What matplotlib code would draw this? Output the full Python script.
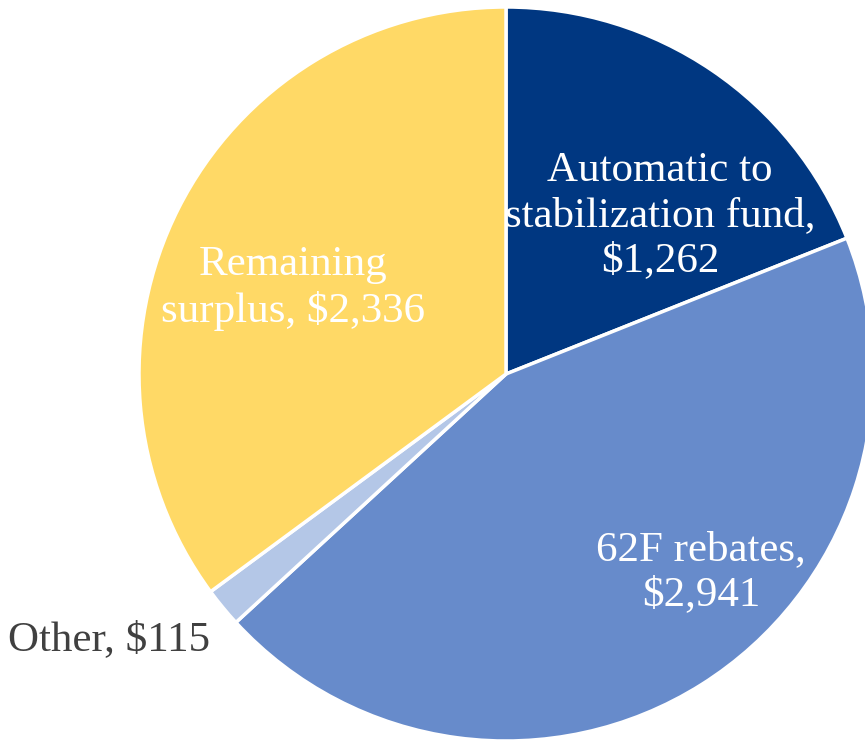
import matplotlib
matplotlib.use("Agg")
import matplotlib.pyplot as plt

categories = ["Automatic to\nstabilization fund,\n$1,262", "62F rebates,\n$2,941", "Other, $115", "Remaining\nsurplus, $2,336"]
values = [1262, 2941, 115, 2336]
colors = ["#003781", "#678BCB", "#B4C7E7", "#FFD966"]

W, H = 865, 742
cx, cy, R = 506, 374, 367

fig = plt.figure(figsize=(W / 100, H / 100), dpi=100)
ax = fig.add_axes([0, 0, 1, 1])
ax.axis("off")

wedges, _ = ax.pie(values, colors=colors, startangle=90, counterclock=False,
                   radius=1, center=(0, 0),
                   wedgeprops=dict(edgecolor="white", linewidth=2.5))

ax.set_aspect("auto")
ax.set_xlim(-cx / R, (W - cx) / R)
ax.set_ylim((cy - H) / R, cy / R)

def px(x, y):
    return ((x - cx) / R, (cy - y) / R)

font = dict(family=["Liberation Serif", "DejaVu Serif"], fontsize=31, ha="center", va="center", linespacing=1.23)
ax.text(*px(660, 216), categories[0], color="white", **font)
ax.text(*px(701, 572), categories[1], color="white", **font)
ax.text(*px(293, 288), categories[3], color="white", **font)
ax.text(*px(109, 640), categories[2], color="#404040", **font)

fig.savefig("out.png", dpi=100)
